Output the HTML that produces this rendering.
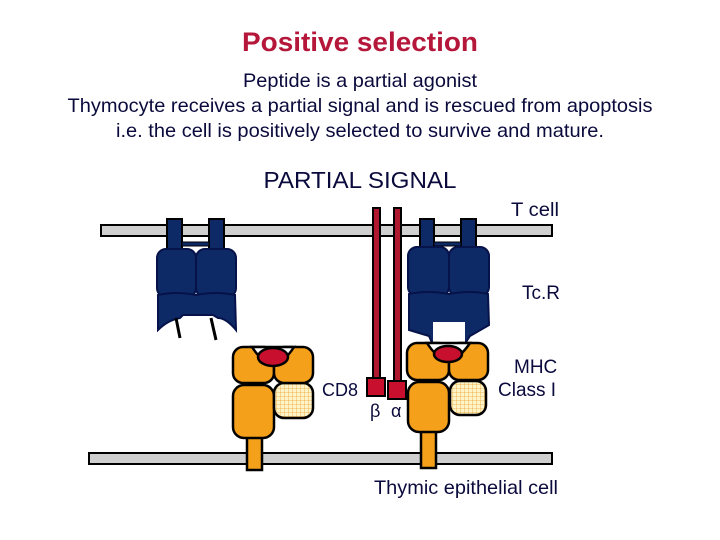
<!DOCTYPE html>
<html><head><style>
html,body{margin:0;padding:0;background:#fff;}
svg{display:block;}
text{font-family:"Liberation Sans",Arial,sans-serif;fill:#0a0a3c;}
</style></head><body>
<svg width="720" height="540" viewBox="0 0 720 540" xmlns="http://www.w3.org/2000/svg">
<defs>
<pattern id="g" width="4" height="4" patternUnits="userSpaceOnUse">
<rect width="4" height="4" fill="#fff3c8"/>
<path d="M0 0H4M0 0V4" stroke="#e8a838" stroke-width="0.8"/>
</pattern>
</defs>
<text x="360" y="51" text-anchor="middle" font-size="27" font-weight="bold" style="fill:#b5173b" textLength="236" lengthAdjust="spacingAndGlyphs">Positive selection</text>
<text x="360" y="87" text-anchor="middle" font-size="19.5" textLength="234" lengthAdjust="spacingAndGlyphs">Peptide is a partial agonist</text>
<text x="360" y="112" text-anchor="middle" font-size="19.5" textLength="585" lengthAdjust="spacingAndGlyphs">Thymocyte receives a partial signal and is rescued from apoptosis</text>
<text x="360" y="137" text-anchor="middle" font-size="19.5" textLength="488" lengthAdjust="spacingAndGlyphs">i.e. the cell is positively selected to survive and mature.</text>
<text x="360" y="188" text-anchor="middle" font-size="23" textLength="193" lengthAdjust="spacingAndGlyphs">PARTIAL SIGNAL</text>
<text x="511" y="216" font-size="19" textLength="48" lengthAdjust="spacingAndGlyphs">T cell</text>
<text x="522" y="299" font-size="19">Tc.R</text>
<text x="514" y="373" font-size="19">MHC</text>
<text x="498" y="396" font-size="19">Class I</text>
<text x="322" y="396" font-size="18">CD8</text>
<text x="374" y="494" font-size="19.5" textLength="184" lengthAdjust="spacingAndGlyphs">Thymic epithelial cell</text>
<text x="370" y="417" font-size="18" font-family="DejaVu Serif,serif">β</text>
<text x="391" y="417" font-size="18" font-family="DejaVu Serif,serif">α</text>

<rect x="101" y="225" width="451" height="11" fill="#cfcfcf" stroke="#000" stroke-width="2"/>
<rect x="89" y="453" width="463" height="11" fill="#cfcfcf" stroke="#000" stroke-width="2"/>

<rect x="373" y="208" width="7" height="172" fill="#b01830" stroke="#000" stroke-width="2"/>
<rect x="394" y="208" width="7" height="182" fill="#b01830" stroke="#000" stroke-width="2"/>
<rect x="367" y="378" width="18" height="18" fill="#c8102e" stroke="#000" stroke-width="2"/>
<rect x="388" y="381" width="18" height="18" fill="#c8102e" stroke="#000" stroke-width="2"/>

<g stroke="#000" stroke-width="2" fill="#0e2a66">
<rect x="167" y="219" width="15" height="32"/>
<rect x="209" y="219" width="15" height="32"/>
<rect x="182" y="242" width="27" height="4" stroke-width="1"/>
<rect x="157" y="249" width="39" height="48" rx="9" stroke="#06124a"/>
<rect x="196" y="249" width="40" height="48" rx="9" stroke="#06124a"/>
<path d="M158 295 Q176 291 196 295 Q216 291 235 295 L236 330 Q226 318 218 318 L213 315 L183 315 L180 318 Q168 320 158 330 Z" stroke="#06124a"/>
<path d="M176 318 L180 338 M211 318 L216 340" stroke="#000" stroke-width="3"/>
</g>
<g stroke="#000" stroke-width="2" fill="#0e2a66">
<rect x="420" y="219" width="14" height="32"/>
<rect x="461" y="219" width="15" height="32"/>
<rect x="434" y="242" width="27" height="4" stroke-width="1"/>
<rect x="408" y="247" width="41" height="49" rx="9" stroke="#06124a"/>
<rect x="449" y="247" width="40" height="49" rx="9" stroke="#06124a"/>
<path d="M409 294 Q428 290 449 294 Q470 290 488 294 L489 325 L470 336 L464 345 L433 345 L429 336 L409 330 Z" stroke="#06124a"/>
<rect x="433" y="322" width="32" height="22" fill="#fff" stroke="none"/>
</g>

<g stroke="#000" stroke-width="2.5">
<rect x="247" y="432" width="15" height="38" fill="#f5a01a"/>
<rect x="233" y="385" width="41" height="53" rx="11" fill="#f5a01a"/>
<rect x="274" y="383" width="39" height="35" rx="10" fill="url(#g)"/>
<rect x="233" y="347" width="41" height="36" rx="10" fill="#f5a01a"/>
<rect x="274" y="347" width="39" height="36" rx="10" fill="#f5a01a"/>
<path d="M252 347 Q273 380 294 347 Z" fill="#fff"/>
<ellipse cx="273" cy="357" rx="15" ry="9" fill="#c8102e"/>
</g>
<g stroke="#000" stroke-width="2.5">
<rect x="421" y="428" width="15" height="40" fill="#f5a01a"/>
<rect x="408" y="382" width="41" height="50" rx="11" fill="#f5a01a"/>
<rect x="450" y="381" width="36" height="34" rx="10" fill="url(#g)"/>
<rect x="407" y="343" width="42" height="37" rx="10" fill="#f5a01a"/>
<rect x="449" y="343" width="39" height="37" rx="10" fill="#f5a01a"/>
<path d="M427 343 Q448 376 470 343 Z" fill="#fff"/>
<ellipse cx="448" cy="354" rx="14" ry="8" fill="#c8102e"/>
</g>
</svg>
</body></html>
